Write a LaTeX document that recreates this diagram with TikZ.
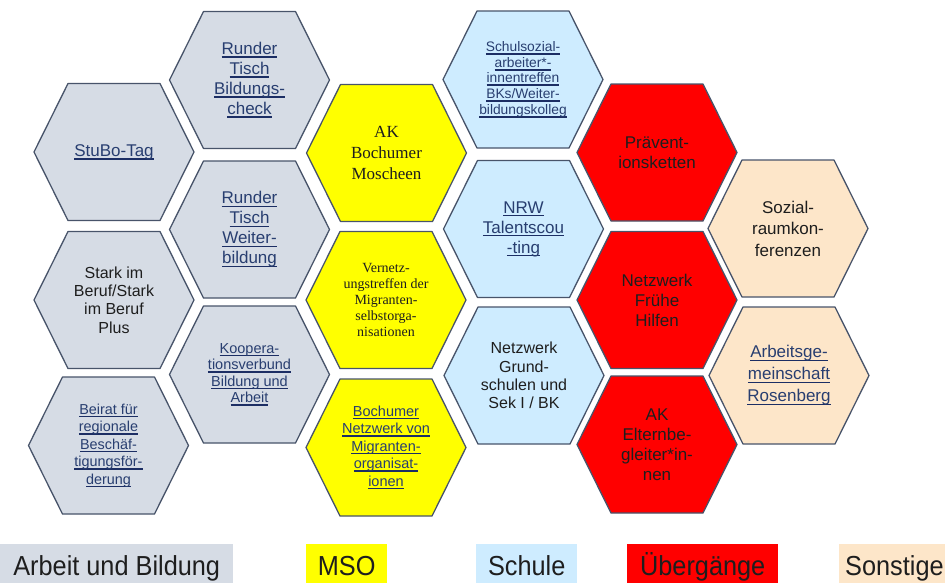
\documentclass[tikz,border=0pt]{standalone}
\usepackage{fontspec}
\setmainfont{Liberation Sans}
\newfontfamily\timesfont{Liberation Serif}

\definecolor{hexedge}{RGB}{72,84,106}
\definecolor{fillAB}{RGB}{214,220,229}
\definecolor{fillMSO}{RGB}{255,255,0}
\definecolor{fillSchule}{RGB}{206,236,255}
\definecolor{fillUe}{RGB}{255,0,0}
\definecolor{fillSonst}{RGB}{253,230,201}
\definecolor{lnktext}{RGB}{40,62,112}
\definecolor{lnkline}{RGB}{28,46,100}
\definecolor{plaintext}{RGB}{30,30,30}

% underlined link text, one line at a time
\newcommand\lk[1]{\setbox0=\hbox{#1}\rlap{\color{lnkline}\rule[-3.4pt]{\wd0}{1.8pt}}\box0}
% horizontally condensed legend label
\newcommand\narrowtext[1]{\scalebox{0.92}[1]{#1}}

\tikzset{
  hexline/.style={draw=hexedge, line width=1.3pt, line join=round},
  hexbox/.style={align=center, inner sep=0pt, text=plaintext,
                 font=\fontsize{17}{20}\selectfont},
  midfont/.style={font=\fontsize{16}{18.3}\selectfont},
  smallfont/.style={font=\fontsize{14.5}{16.5}\selectfont},
  link/.style={text=lnktext},
  legendbox/.style={anchor=north west, inner sep=0pt, minimum height=46pt,
                    text height=21pt, text depth=5pt, text=plaintext,
                    font=\fontsize{27.5}{30}\selectfont},
}

% hexagon with pointed left/right corners, centred at #2, label node named #1
\newcommand\hexcell[5]{%
  \path[hexline,fill=#3] (#2) ++(-80,0) -- ++(34,-68.5) -- ++(92,0)
     -- ++(34,68.5) -- ++(-34,68.5) -- ++(-92,0) -- cycle;
  \node[hexbox,#4] (#1) at (#2) {#5};
}

\begin{document}
\begin{tikzpicture}[x=1pt,y=-1pt]
\clip (0,0) rectangle (945,582);
\fill[white] (0,0) rectangle (945,582);

% Arbeit und Bildung
\hexcell{stubo}{114,152}{fillAB}{link}{\lk{StuBo-Tag}}
\hexcell{stark}{114,300}{fillAB}{midfont}{Stark im\\Beruf/Stark\\im Beruf\\Plus}
\hexcell{beirat}{108.5,445.5}{fillAB}{link,font=\fontsize{14.4}{17.5}\selectfont}%
  {\lk{Beirat für}\\\lk{regionale}\\\lk{Beschäf-}\\\lk{tigungsför-}\\\lk{derung}}
\hexcell{rtbild}{249.5,80}{fillAB}{link}{\lk{Runder}\\\lk{Tisch}\\\lk{Bildungs-}\\\lk{check}}
\hexcell{rtweiter}{249.5,229.5}{fillAB}{link}{\lk{Runder}\\\lk{Tisch}\\\lk{Weiter-}\\\lk{bildung}}
\hexcell{koop}{249.5,374.5}{fillAB}{link,smallfont}%
  {\lk{Koopera-}\\\lk{tionsverbund}\\\lk{Bildung und}\\\lk{Arbeit}}

% MSO
\hexcell{moscheen}{386.5,153}{fillMSO}{font=\timesfont\fontsize{17}{21}\selectfont}%
  {AK\\Bochumer\\Moscheen}
\hexcell{vernetz}{386,300}{fillMSO}{font=\timesfont\fontsize{14}{16}\selectfont}%
  {Vernetz-\\ungstreffen der\\Migranten-\\selbstorga-\\nisationen}
\hexcell{bonetz}{386,447.5}{fillMSO}{link,font=\fontsize{14.5}{17.5}\selectfont}%
  {\lk{Bochumer}\\\lk{Netzwerk von}\\\lk{Migranten-}\\\lk{organisat-}\\\lk{ionen}}

% Schule
\hexcell{schulsoz}{523,79.5}{fillSchule}{link,font=\fontsize{13.8}{15.7}\selectfont}%
  {\lk{Schulsozial-}\\\lk{arbeiter*-}\\\lk{innentreffen}\\\lk{BKs/Weiter-}\\\lk{bildungskolleg}}
\hexcell{nrw}{523.5,229}{fillSchule}{link}{\lk{NRW}\\\lk{Talentscou}\\\lk{-ting}}
\hexcell{grund}{524,375.5}{fillSchule}{midfont}{Netzwerk\\Grund-\\schulen und\\Sek I / BK}

% Übergänge
\hexcell{praev}{657,152.5}{fillUe}{}{Prävent-\\ionsketten}
\hexcell{fruehe}{657,300}{fillUe}{}{Netzwerk\\Frühe\\Hilfen}
\hexcell{eltern}{657,444.5}{fillUe}{}{AK\\Elternbe-\\gleiter*in-\\nen}

% Sonstige
\hexcell{sozial}{788,228.5}{fillSonst}{font=\fontsize{17}{21.5}\selectfont}{Sozial-\\raumkon-\\ferenzen}
\hexcell{rosen}{789,375.5}{fillSonst}{link,font=\fontsize{17}{22}\selectfont}%
  {\lk{Arbeitsge-}\\\lk{meinschaft}\\\lk{Rosenberg}}

% legend
\node[legendbox,fill=fillAB,minimum width=233pt] (legAB) at (0,544) {\narrowtext{Arbeit und Bildung}};
\node[legendbox,fill=fillMSO,minimum width=81pt] (legMSO) at (306,544) {\narrowtext{MSO}};
\node[legendbox,fill=fillSchule,minimum width=101pt] (legSchule) at (476,544) {\narrowtext{Schule}};
\node[legendbox,fill=fillUe,minimum width=151pt] (legUe) at (627,544) {\narrowtext{Übergänge}};
\node[legendbox,fill=fillSonst,minimum width=130pt,align=left,text width=120pt] (legSonst) at (839,544) {\hspace*{1pt}\narrowtext{Sonstige}};
\end{tikzpicture}
\end{document}
